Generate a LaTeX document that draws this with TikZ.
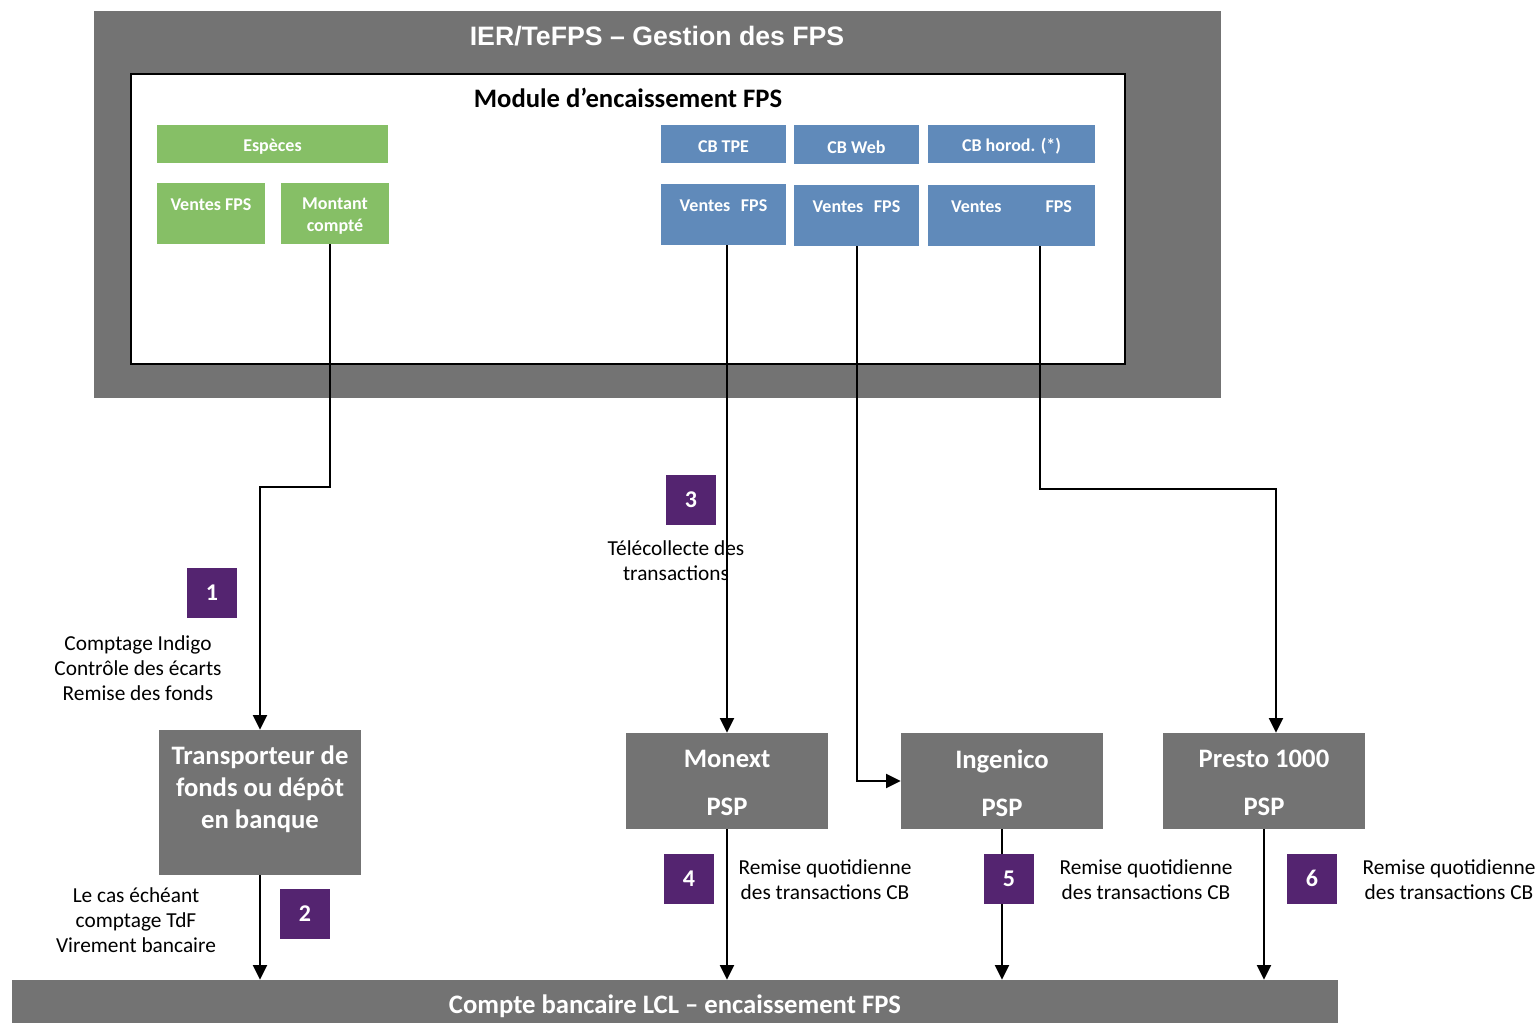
\documentclass[tikz,border=0pt]{standalone}
\usepackage{fontspec}
\setmainfont{Carlito}
\newfontfamily\arialfont{Liberation Sans}
\usetikzlibrary{fit,arrows.meta,positioning}
\definecolor{boitegris}{RGB}{115,115,115}
\definecolor{vertesp}{RGB}{134,191,102}
\definecolor{bleucb}{RGB}{96,138,186}
\definecolor{numviolet}{RGB}{84,36,112}
\tikzset{
  gris/.style={fill=boitegris, inner sep=0pt},
  vertbox/.style={fill=vertesp, inner sep=0pt},
  bleubox/.style={fill=bleucb, inner sep=0pt},
  boxtexte/.style={text=white, align=center, yshift=-2pt, font=\bfseries\fontsize{13.5}{16.5}\selectfont},
  gristexte/.style={text=white, align=center, font=\bfseries\fontsize{20}{24}\selectfont},
  psptexte/.style={text=white, align=center, yshift=-1.5pt, font=\bfseries\fontsize{20}{36}\selectfont},
  numero/.style={fill=numviolet, text=white, minimum size=37.5pt, inner sep=0pt, font=\bfseries\fontsize{18}{21}\selectfont},
  note/.style={align=center, font=\fontsize{16}{19}\selectfont},
  fleche/.style={-{Triangle[length=11pt,width=10.5pt]}, line width=1.5pt},
}
\begin{document}
\begin{tikzpicture}[x=0.75pt, y=-0.75pt]
    \useasboundingbox (0,0) rectangle (1540,1023);

    % 外枠 IER/TeFPS
    \node[gris, fit={(94,11) (1221,398)}] (ier) {};
    \node[text=white, font=\arialfont\bfseries\fontsize{20}{24}\selectfont] (iertitre) at (657,36) {IER/TeFPS – Gestion des FPS};

    % 内枠 (モジュール)
    \node[draw=black, line width=1pt, fill=white, inner sep=0pt, fit={(131,74) (1125,364)}] (module) {};
    \node[font=\bfseries\fontsize{20}{24}\selectfont] (moduletitre) at (628,98) {Module d’encaissement FPS};

    % 緑の箱 (現金)
    \node[vertbox, fit={(157,125) (388,163)}] (especes) {};
    \node[boxtexte] (especestxt) at (especes) {Espèces};
    \node[vertbox, fit={(157,183) (265,244)}] (ventesesp) {};
    \node[boxtexte] (ventesesptxt) at (211,202) {Ventes FPS};
    \node[vertbox, fit={(281,183) (389,244)}] (montant) {};
    \node[boxtexte] (montanttxt) at (montant) {Montant\\compté};

    % 青の箱 (カード)
    \node[bleubox, fit={(661,125) (786,163)}] (cbtpe) {};
    \node[boxtexte] (cbtpetxt) at (cbtpe) {CB TPE};
    \node[bleubox, fit={(794,125) (919,164)}] (cbweb) {};
    \node[boxtexte] (cbwebtxt) at (cbweb) {CB Web};
    \node[bleubox, fit={(928,125) (1095,163)}] (cbhorod) {};
    \node[boxtexte] (cbhorodtxt) at (cbhorod) {CB horod. (*)};
    \node[bleubox, fit={(661,184) (786,245)}] (ventestpe) {};
    \node[boxtexte] (ventestpetxt) at (723.5,203) {Ventes\hspace{8pt}FPS};
    \node[bleubox, fit={(794,185) (919,246)}] (ventesweb) {};
    \node[boxtexte] (venteswebtxt) at (856.5,204) {Ventes\hspace{8pt}FPS};
    \node[bleubox, fit={(928,185) (1095,246)}] (venteshorod) {};
    \node[boxtexte] (venteshorodtxt) at (1011.5,204) {Ventes\hspace{33pt}FPS};

    % 灰色の箱 (PSP など)
    \node[gris, fit={(159,730) (361,875)}] (transporteur) {};
    \node[gristexte] (transtxt) at (260,789) {Transporteur de\\fonds ou dépôt\\en banque};
    \node[gris, fit={(626,733) (828,829)}] (monext) {};
    \node[psptexte] (monexttxt) at (monext) {Monext\\PSP};
    \node[gris, fit={(901,733) (1103,829)}] (ingenico) {};
    \node[psptexte] (ingenicotxt) at (ingenico) {Ingenico\\PSP};
    \node[gris, fit={(1163,733) (1365,829)}] (presto) {};
    \node[psptexte] (prestotxt) at (presto) {Presto 1000\\PSP};
    \node[gris, fit={(12,980) (1338,1023)}] (compte) {};
    \node[gristexte] (comptetxt) at (675,1006) {Compte bancaire LCL – encaissement FPS};

    % 説明
    \node[note] (note1) at (138,668) {Comptage Indigo\\Contrôle des écarts\\Remise des fonds};
    \node[note] (note2) at (136,920) {Le cas échéant\\comptage TdF\\Virement bancaire};
    \node[note] (note3) at (676,561) {Télécollecte des\\transactions};
    \node[note] (note4) at (825,879.5) {Remise quotidienne\\des transactions CB};
    \node[note] (note5) at (1146,879.5) {Remise quotidienne\\des transactions CB};
    \node[note] (note6) at (1449,879.5) {Remise quotidienne\\des transactions CB};

    % 矢印
    \draw[fleche] ([xshift=-3.75pt]montant.south) -- ++(0,243) -| (transporteur.north);
    \draw[fleche] (ventestpe.south -| monext.north) -- (monext.north);
    \draw[fleche] (ventesweb.south) |- (ingenico.west);
    \draw[fleche] ([xshift=21pt]venteshorod.south) -- ++(0,243) -| ([xshift=9pt]presto.north);
    \draw[fleche] (transporteur.south) -- (transporteur.south |- compte.north);
    \draw[fleche] (monext.south) -- (monext.south |- compte.north);
    \draw[fleche] (ingenico.south) -- (ingenico.south |- compte.north);
    \draw[fleche] (presto.south) -- (presto.south |- compte.north);

    % 番号
    \node[numero] (n1) at (212,592.5) {1};
    \node[numero] (n2) at (305,913.5) {2};
    \node[numero] (n3) at (691,499.5) {3};
    \node[numero] (n4) at (689,878.5) {4};
    \node[numero] (n5) at (1009,878.5) {5};
    \node[numero] (n6) at (1312,878.5) {6};
\end{tikzpicture}
\end{document}
